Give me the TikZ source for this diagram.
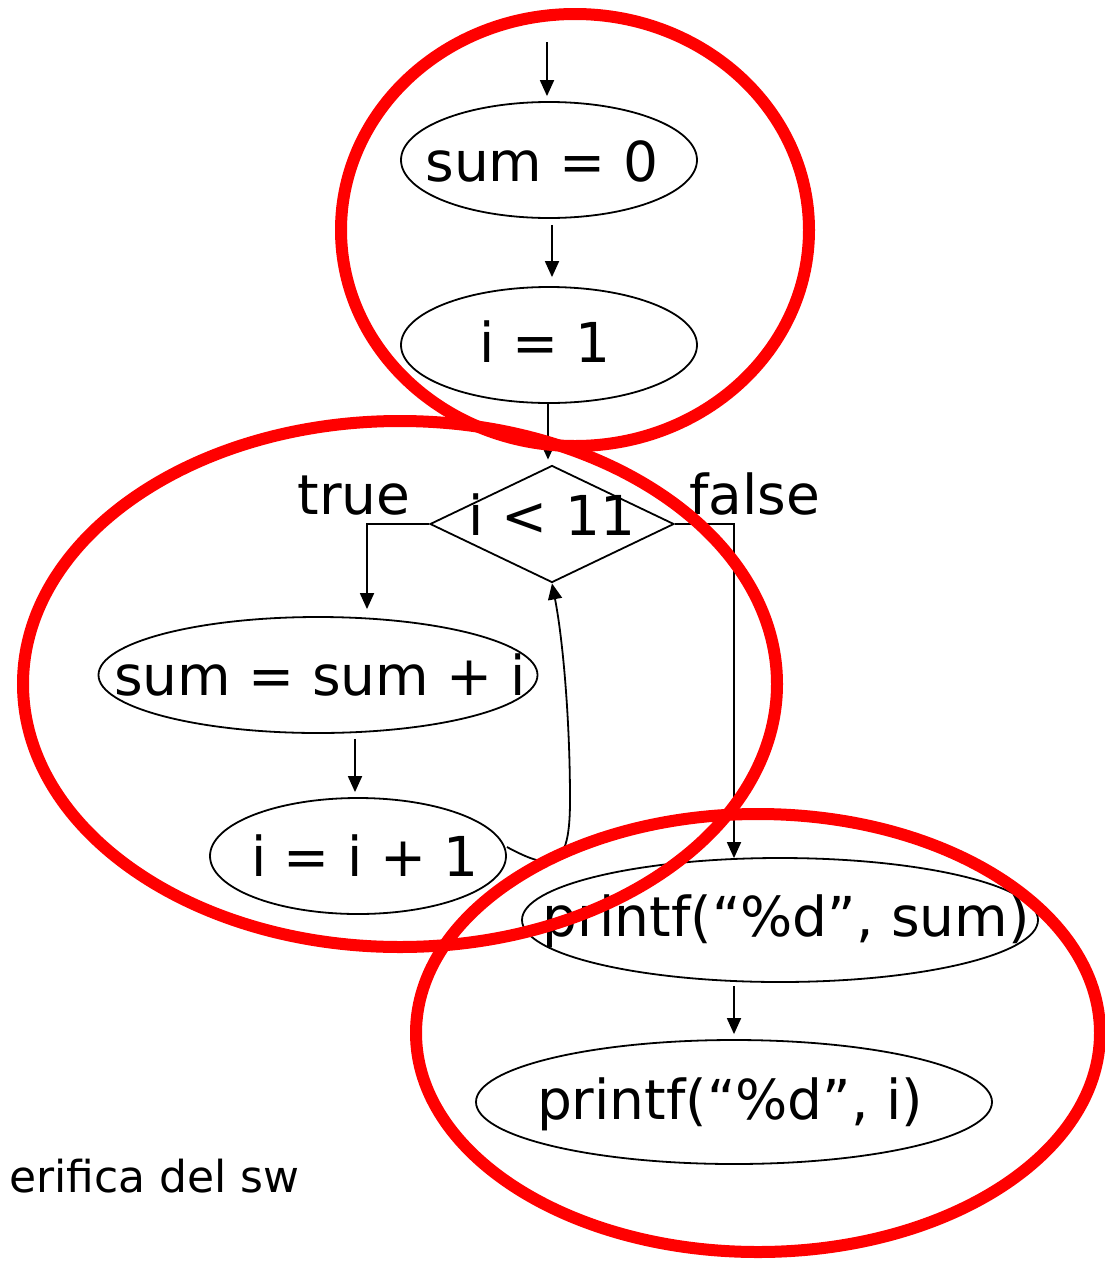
\documentclass[tikz,border=0pt]{standalone}
\usepackage{fontspec}
\setmainfont{DejaVu Sans}
\usetikzlibrary{arrows.meta,shapes.geometric}
\begin{document}
\begin{tikzpicture}[x=1pt,y=-1pt,
  blk/.style={line width=1.8pt},
  arr/.style={blk,-{Triangle[length=16pt,width=14pt]}},
  ell/.style={draw,blk,ellipse,inner sep=0pt},
  dia/.style={draw,blk,diamond,inner sep=0pt,minimum width=244pt,minimum height=117pt},
  txt/.style={font=\fontsize{55}{60}\selectfont,inner sep=0pt,anchor=base},
  redring/.style={draw=red,line width=12pt}]
\useasboundingbox (0,0) rectangle (1104,1261);
% shapes
\node[ell,minimum width=296pt,minimum height=116pt] (sum0) at (549,160) {};
\node[ell,minimum width=296pt,minimum height=116pt] (i1) at (549,345) {};
\node[dia] (cond) at (552,524) {};
\node[ell,minimum width=439pt,minimum height=116pt] (sumi) at (318,675) {};
\node[ell,minimum width=296pt,minimum height=116pt] (iinc) at (358,856) {};
\node[ell,minimum width=516pt,minimum height=124pt] (ps) at (780,920) {};
\node[ell,minimum width=516pt,minimum height=124pt] (pi) at (734,1102) {};
% texts
\node[txt] (tsum0) at (542,181) {sum = 0};
\node[txt] (ti1) at (545,362) {i = 1};
\node[txt] (tcond) at (552,535) {i < 11};
\node[txt] (ttrue) at (354,514) {true};
\node[txt] (tfalse) at (755,514) {false};
\node[txt] (tsumi) at (320,695) {sum = sum + i};
\node[txt] (tiinc) at (365,876) {i = i + 1};
\node[txt] (tps) at (786,936) {printf(“\%d”, sum)};
\node[txt] (tpi) at (730,1119) {printf(“\%d”, i)};
\node[font=\fontsize{44}{48}\selectfont,inner sep=0pt,anchor=base east] (tver) at (300,1192) {erifica del sw};
% connectors
\coordinate (start) at (547,42);
\draw[arr,shorten >=5pt] (start) -- (start |- sum0.north);
\draw[arr,shorten <=6pt,shorten >=9pt] ([xshift=3pt]sum0.south) -- ([xshift=3pt]i1.north);
\draw[arr,shorten >=5pt] ([xshift=-1pt]i1.south) -- ([xshift=-1pt]i1.south |- cond.north);
\draw[arr,shorten >=7pt] (cond.west) -| ([xshift=49pt]sumi.north);
\draw[arr] (cond.east) -| ([xshift=-46pt,yshift=-1pt]ps.north);
\draw[arr,shorten <=5pt,shorten >=5pt] ([xshift=-3pt]iinc.north |- sumi.south) -- ([xshift=-3pt]iinc.north);
\draw[arr,shorten <=3pt,shorten >=5pt] (pi.north |- ps.south) -- (pi.north);
\draw[arr] ([yshift=9pt]iinc.east) .. controls (522,855) and (540,864) .. (552,861)
  .. controls (564,856) and (570,842) .. (570,800)
  .. controls (570,720) and (563,640) .. (cond.south);
% red rings
\draw[redring] (575,230) ellipse [x radius=234pt, y radius=216pt];
\draw[redring] (400,684) ellipse [x radius=377pt, y radius=263pt];
\draw[redring] (758,1033) ellipse [x radius=342pt, y radius=219pt];
\end{tikzpicture}
\end{document}
